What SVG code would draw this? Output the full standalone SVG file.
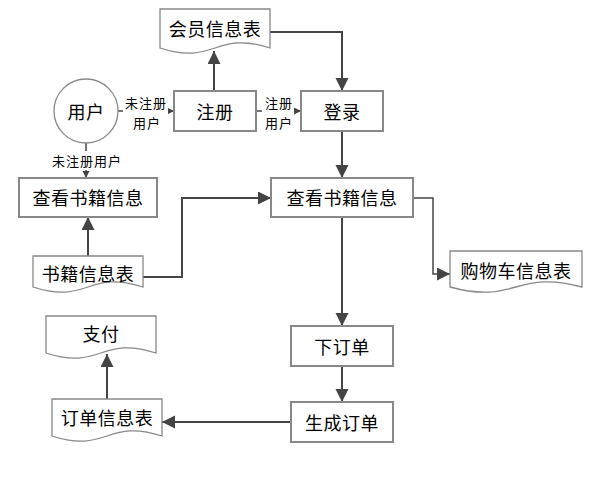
<svg xmlns="http://www.w3.org/2000/svg" width="600" height="477" viewBox="0 0 600 477">
<defs>
<style>
.box{fill:#fff;stroke:#888;stroke-width:2}
.doc{fill:#fff;stroke:#888;stroke-width:1.3}
.t{font-family:"Noto Sans CJK SC","Noto Sans CJK JP",sans-serif;font-size:18px;fill:#000;text-anchor:middle;dominant-baseline:central;letter-spacing:0.5px}
.s{font-family:"Noto Sans CJK SC","Noto Sans CJK JP",sans-serif;font-size:13px;fill:#000;text-anchor:middle;dominant-baseline:central;letter-spacing:1px}
.c{fill:none;stroke:#444;stroke-width:2}
.cs{fill:none;stroke:#444;stroke-width:1.5}
</style>
<marker id="a" markerUnits="userSpaceOnUse" markerWidth="14" markerHeight="14" refX="13" refY="6.5" orient="auto"><path d="M0,0 L13,6.5 L0,13 Z" fill="#444"/></marker>
<marker id="sa" markerUnits="userSpaceOnUse" markerWidth="8" markerHeight="8" refX="7" refY="3.5" orient="auto"><path d="M0,0 L7,3.5 L0,7 Z" fill="#444"/></marker>
</defs>
<rect width="600" height="477" fill="#fff"/>
<g id="connectors">
<path class="c" d="M214,91 V51" marker-end="url(#a)"/>
<path class="c" d="M270,32 H342 V91" marker-end="url(#a)"/>
<path class="cs" d="M118,111 H174" marker-end="url(#sa)"/>
<path class="cs" d="M256,111 H301" marker-end="url(#sa)"/>
<path class="cs" d="M86,143 V178" marker-end="url(#sa)"/>
<path class="c" d="M342,131 V178" marker-end="url(#a)"/>
<path class="c" d="M88,256 V217" marker-end="url(#a)"/>
<path class="c" d="M143,277 H182 V198 H271" marker-end="url(#a)"/>
<path class="cs" d="M413,198 H433 V274 H450" marker-end="url(#a)"/>
<path class="c" d="M342,217 V326" marker-end="url(#a)"/>
<path class="c" d="M342,366 V402" marker-end="url(#a)"/>
<path class="c" d="M291,422 H162" marker-end="url(#a)"/>
<path class="c" d="M107,399 V354" marker-end="url(#a)"/>
<rect x="123" y="93" width="45" height="38" fill="#fff"/>
<text class="s" x="146" y="102">未注册</text>
<text class="s" x="147" y="122">用户</text>
<rect x="262" y="93" width="32" height="38" fill="#fff"/>
<text class="s" x="279" y="102">注册</text>
<text class="s" x="279" y="122">用户</text>
<rect x="49" y="151" width="76" height="19" fill="#fff"/>
<text class="s" x="87" y="160">未注册用户</text>
</g>
<g id="huiyuan">
<path class="doc" d="M160,9 H270 V48 C215,30 215,66 160,48 Z"/>
<text class="t" x="215" y="28">会员信息表</text>
</g>
<g id="user">
<circle cx="86" cy="111" r="32" fill="#fff" stroke="#888" stroke-width="1.3"/>
<text class="t" x="86" y="111">用户</text>
</g>
<g id="zhuce">
<rect class="box" x="174" y="91" width="82" height="40"/>
<text class="t" x="215" y="111">注册</text>
</g>
<g id="denglu">
<rect class="box" x="301" y="91" width="82" height="40"/>
<text class="t" x="342" y="111">登录</text>
</g>
<g id="chakan1">
<rect class="box" x="19" y="178" width="138" height="39"/>
<text class="t" x="88" y="197">查看书籍信息</text>
</g>
<g id="chakan2">
<rect class="box" x="271" y="178" width="142" height="39"/>
<text class="t" x="342" y="197">查看书籍信息</text>
</g>
<g id="shuji">
<path class="doc" d="M33,256 H143 V287 C88,269 88,305 33,287 Z"/>
<text class="t" x="88" y="273">书籍信息表</text>
</g>
<g id="gouwuche">
<path class="doc" d="M450,251 H582 V287 C516,269 516,305 450,287 Z"/>
<text class="t" x="516" y="270">购物车信息表</text>
</g>
<g id="xiadingdan">
<rect class="box" x="291" y="326" width="102" height="40"/>
<text class="t" x="342" y="346">下订单</text>
</g>
<g id="shengcheng">
<rect class="box" x="291" y="402" width="102" height="40"/>
<text class="t" x="342" y="422">生成订单</text>
</g>
<g id="zhifu">
<path class="doc" d="M46,316 H156 V353 C101,335 101,371 46,353 Z"/>
<text class="t" x="101" y="333">支付</text>
</g>
<g id="dingdanxinxi">
<path class="doc" d="M52,399 H162 V436 C107,418 107,454 52,436 Z"/>
<text class="t" x="107" y="417">订单信息表</text>
</g>
</svg>
